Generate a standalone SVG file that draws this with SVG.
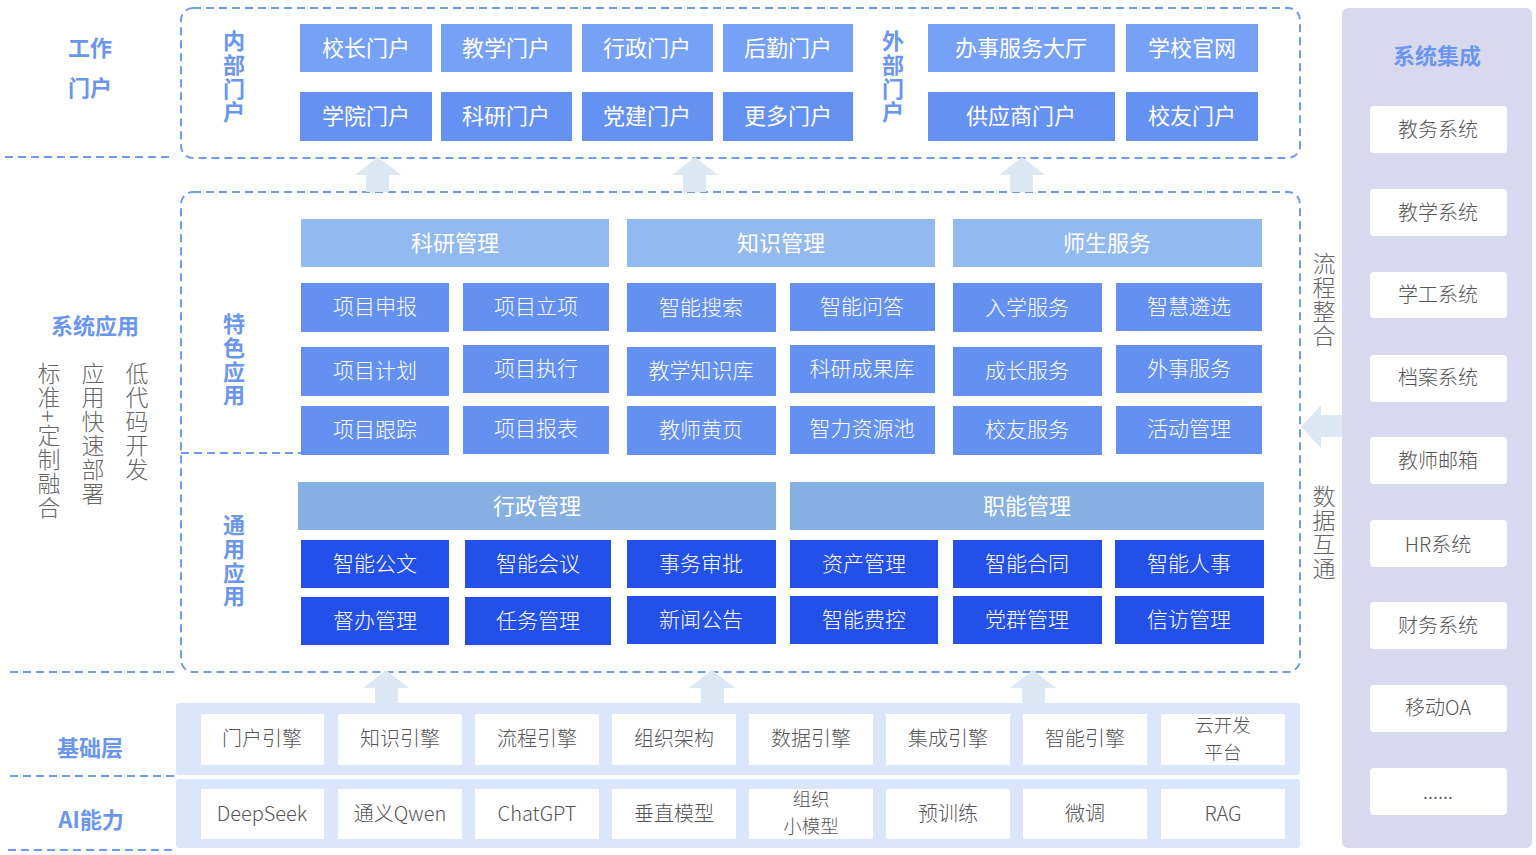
<svg xmlns="http://www.w3.org/2000/svg" width="1536" height="855" viewBox="0 0 1536 855">
<defs>
<style>
text{font-family:"Noto Sans CJK SC","Liberation Sans",sans-serif;text-anchor:middle;dominant-baseline:central;transform:translateY(-2px)}
.v{writing-mode:vertical-rl;text-anchor:start;transform:none}
.dash{fill:none;stroke:#6f9cf2;stroke-width:2;stroke-dasharray:8 5}
.lbl{fill:#6a96f0;font-size:22px;font-weight:700}
.vt{fill:#6a96f0;font-size:22px;font-weight:700;letter-spacing:1.7px}
.gv{fill:#666;font-size:23px;font-weight:300;letter-spacing:1px}
.p1{fill:#76a1f6}
.p2{fill:#6592f2}
.hd{fill:#93baf0}
.hd2{fill:#85b0e1}
.c{fill:#6490f2}
.c2{fill:#2450ea}
.wt{fill:#fff;font-size:21px;font-weight:300}
.wh{fill:#fff;font-size:22px;font-weight:400}
.panel{fill:#dce6fb}
.wb{fill:#fff}
.gt{fill:#555;font-size:20px;font-weight:300}
.gt2{fill:#555;font-size:18.5px;font-weight:300}
.arr{fill:#dde8f5}
.rp{fill:#d8d9ef}
</style>
</defs>

<!-- left column labels -->
<g id="left-labels">
<text class="lbl" x="90" y="48">工作</text>
<text class="lbl" x="90" y="88">门户</text>
<text class="lbl" x="95" y="326">系统应用</text>
<text class="lbl" x="90" y="748">基础层</text>
<text class="lbl" x="91" y="820">AI能力</text>
<text class="gv v" x="49" y="362">标准+定制融合</text>
<text class="gv v" x="93" y="362">应用快速部署</text>
<text class="gv v" x="137" y="362">低代码开发</text>
</g>

<!-- frames and separators -->
<g id="frames">
<line class="dash" x1="5" y1="157" x2="172" y2="157"/>
<line class="dash" x1="10" y1="672" x2="176" y2="672"/>
<line class="dash" x1="10" y1="776" x2="175" y2="776"/>
<line class="dash" x1="8" y1="850" x2="172" y2="850"/>
<rect class="dash" x="181" y="8" width="1119" height="150" rx="12"/>
<rect class="dash" x="181" y="192" width="1119" height="480" rx="12"/>
<line class="dash" x1="181" y1="453" x2="328" y2="453"/>
</g>

<!-- connectors (arrows) -->
<g id="connectors">
<polygon class="arr" points="378,157 401,175 389,175 389,192 366,192 366,175 355,175"/>
<polygon class="arr" points="695,157 718,175 706,175 706,192 683,192 683,175 672,175"/>
<polygon class="arr" points="1022,157 1045,175 1033,175 1033,192 1010,192 1010,175 999,175"/>
<polygon class="arr" points="386,670 409,688 398,688 398,703 375,703 375,688 363,688"/>
<polygon class="arr" points="712,670 735,688 724,688 724,703 701,703 701,688 689,688"/>
<polygon class="arr" points="1033,670 1056,688 1045,688 1045,703 1022,703 1022,688 1010,688"/>
<polygon class="arr" points="1301,427 1321,405 1321,415 1342,415 1342,437 1321,437 1321,448"/>
</g>

<!-- portal layer -->
<g id="portal-labels">
<text class="vt v" x="234" y="30">内部门户</text>
<text class="vt v" x="893" y="30">外部门户</text>
</g>
<g id="n-xiaozhang"><rect class="p1" x="300" y="24" width="132" height="48"/><text class="wh" x="366" y="48">校长门户</text></g>
<g id="n-jiaoxue-portal"><rect class="p1" x="441" y="24" width="131" height="48"/><text class="wh" x="506" y="48">教学门户</text></g>
<g id="n-xingzheng-portal"><rect class="p1" x="582" y="24" width="131" height="48"/><text class="wh" x="647" y="48">行政门户</text></g>
<g id="n-houqin"><rect class="p1" x="723" y="24" width="130" height="48"/><text class="wh" x="788" y="48">后勤门户</text></g>
<g id="n-xueyuan"><rect class="p2" x="300" y="92" width="132" height="49"/><text class="wh" x="366" y="116">学院门户</text></g>
<g id="n-keyan-portal"><rect class="p2" x="441" y="92" width="131" height="49"/><text class="wh" x="506" y="116">科研门户</text></g>
<g id="n-dangjian"><rect class="p2" x="582" y="92" width="131" height="49"/><text class="wh" x="647" y="116">党建门户</text></g>
<g id="n-gengduo"><rect class="p2" x="723" y="92" width="130" height="49"/><text class="wh" x="788" y="116">更多门户</text></g>
<g id="n-banshi"><rect class="p1" x="928" y="24" width="187" height="48"/><text class="wh" x="1021" y="48">办事服务大厅</text></g>
<g id="n-guanwang"><rect class="p1" x="1126" y="24" width="132" height="48"/><text class="wh" x="1192" y="48">学校官网</text></g>
<g id="n-gongying"><rect class="p2" x="928" y="92" width="187" height="49"/><text class="wh" x="1021" y="116">供应商门户</text></g>
<g id="n-xiaoyou-portal"><rect class="p2" x="1126" y="92" width="132" height="49"/><text class="wh" x="1192" y="116">校友门户</text></g>

<!-- application layer -->
<g id="app-labels">
<text class="vt v" x="234" y="313">特色应用</text>
<text class="vt v" x="234" y="514">通用应用</text>
</g>
<g id="h-keyan"><rect class="hd" x="301" y="219" width="308" height="48"/><text class="wh" x="455" y="243">科研管理</text></g>
<g id="h-zhishi"><rect class="hd" x="627" y="219" width="308" height="48"/><text class="wh" x="781" y="243">知识管理</text></g>
<g id="h-shisheng"><rect class="hd" x="953" y="219" width="309" height="48"/><text class="wh" x="1107" y="243">师生服务</text></g>

<g id="n-xmsb"><rect class="c" x="301" y="283" width="148" height="49"/><text class="wt" x="375" y="307">项目申报</text></g>
<g id="n-xmlx"><rect class="c" x="463" y="283" width="146" height="48"/><text class="wt" x="536" y="307">项目立项</text></g>
<g id="n-znss"><rect class="c" x="627" y="283" width="149" height="49"/><text class="wt" x="701" y="308">智能搜索</text></g>
<g id="n-znwd"><rect class="c" x="790" y="283" width="145" height="48"/><text class="wt" x="862" y="307">智能问答</text></g>
<g id="n-rxfw"><rect class="c" x="953" y="283" width="149" height="49"/><text class="wt" x="1027" y="308">入学服务</text></g>
<g id="n-zhlx"><rect class="c" x="1116" y="283" width="146" height="48"/><text class="wt" x="1189" y="307">智慧遴选</text></g>

<g id="n-xmjh"><rect class="c" x="301" y="347" width="148" height="49"/><text class="wt" x="375" y="371">项目计划</text></g>
<g id="n-xmzx"><rect class="c" x="463" y="345" width="146" height="48"/><text class="wt" x="536" y="369">项目执行</text></g>
<g id="n-jxzsk"><rect class="c" x="627" y="347" width="149" height="49"/><text class="wt" x="701" y="371">教学知识库</text></g>
<g id="n-kycgk"><rect class="c" x="790" y="345" width="145" height="48"/><text class="wt" x="862" y="369">科研成果库</text></g>
<g id="n-czfw"><rect class="c" x="953" y="347" width="149" height="49"/><text class="wt" x="1027" y="371">成长服务</text></g>
<g id="n-wsfw"><rect class="c" x="1116" y="345" width="146" height="48"/><text class="wt" x="1189" y="369">外事服务</text></g>

<g id="n-xmgz"><rect class="c" x="301" y="406" width="148" height="49"/><text class="wt" x="375" y="430">项目跟踪</text></g>
<g id="n-xmbb"><rect class="c" x="463" y="406" width="146" height="48"/><text class="wt" x="536" y="429">项目报表</text></g>
<g id="n-jshy"><rect class="c" x="627" y="406" width="149" height="49"/><text class="wt" x="701" y="430">教师黄页</text></g>
<g id="n-zlzyc"><rect class="c" x="790" y="406" width="145" height="48"/><text class="wt" x="862" y="429">智力资源池</text></g>
<g id="n-xyfw"><rect class="c" x="953" y="406" width="149" height="49"/><text class="wt" x="1027" y="430">校友服务</text></g>
<g id="n-hdgl"><rect class="c" x="1116" y="406" width="146" height="48"/><text class="wt" x="1189" y="429">活动管理</text></g>

<g id="h-xingzheng"><rect class="hd2" x="298" y="482" width="478" height="48"/><text class="wh" x="537" y="506">行政管理</text></g>
<g id="h-zhineng"><rect class="hd2" x="790" y="482" width="474" height="48"/><text class="wh" x="1027" y="506">职能管理</text></g>

<g id="n-zngw"><rect class="c2" x="301" y="540" width="148" height="48"/><text class="wt" x="375" y="564">智能公文</text></g>
<g id="n-znhy"><rect class="c2" x="465" y="540" width="146" height="48"/><text class="wt" x="538" y="564">智能会议</text></g>
<g id="n-swsp"><rect class="c2" x="627" y="540" width="149" height="48"/><text class="wt" x="701" y="564">事务审批</text></g>
<g id="n-zcgl"><rect class="c2" x="790" y="540" width="148" height="48"/><text class="wt" x="864" y="564">资产管理</text></g>
<g id="n-znht"><rect class="c2" x="953" y="540" width="149" height="48"/><text class="wt" x="1027" y="564">智能合同</text></g>
<g id="n-znrs"><rect class="c2" x="1115" y="540" width="149" height="48"/><text class="wt" x="1189" y="564">智能人事</text></g>

<g id="n-dbgl"><rect class="c2" x="301" y="597" width="148" height="48"/><text class="wt" x="375" y="621">督办管理</text></g>
<g id="n-rwgl"><rect class="c2" x="465" y="597" width="146" height="48"/><text class="wt" x="538" y="621">任务管理</text></g>
<g id="n-xwgg"><rect class="c2" x="627" y="596" width="149" height="48"/><text class="wt" x="701" y="620">新闻公告</text></g>
<g id="n-znfk"><rect class="c2" x="790" y="596" width="148" height="48"/><text class="wt" x="864" y="620">智能费控</text></g>
<g id="n-dqgl"><rect class="c2" x="953" y="596" width="149" height="48"/><text class="wt" x="1027" y="620">党群管理</text></g>
<g id="n-xfgl"><rect class="c2" x="1115" y="596" width="149" height="48"/><text class="wt" x="1189" y="620">信访管理</text></g>

<!-- foundation layer -->
<g id="base-panel"><rect class="panel" x="176" y="703" width="1124" height="72" rx="3"/></g>
<g id="n-mhyq"><rect class="wb" x="201" y="714" width="123" height="51"/><text class="gt" x="262" y="739">门户引擎</text></g>
<g id="n-zsyq"><rect class="wb" x="338" y="714" width="124" height="51"/><text class="gt" x="400" y="739">知识引擎</text></g>
<g id="n-lcyq"><rect class="wb" x="475" y="714" width="124" height="51"/><text class="gt" x="537" y="739">流程引擎</text></g>
<g id="n-zzjg"><rect class="wb" x="612" y="714" width="124" height="51"/><text class="gt" x="674" y="739">组织架构</text></g>
<g id="n-sjyq"><rect class="wb" x="749" y="714" width="124" height="51"/><text class="gt" x="811" y="739">数据引擎</text></g>
<g id="n-jcyq"><rect class="wb" x="886" y="714" width="124" height="51"/><text class="gt" x="948" y="739">集成引擎</text></g>
<g id="n-znyq"><rect class="wb" x="1023" y="714" width="124" height="51"/><text class="gt" x="1085" y="739">智能引擎</text></g>
<g id="n-ykf"><rect class="wb" x="1161" y="714" width="124" height="51"/><text class="gt2"><tspan x="1223" y="725.5">云开发</tspan><tspan x="1223" y="752.5">平台</tspan></text></g>

<!-- AI layer -->
<g id="ai-panel"><rect class="panel" x="176" y="779" width="1124" height="69" rx="3"/></g>
<g id="n-deepseek"><rect class="wb" x="201" y="789" width="123" height="50"/><text class="gt" x="262" y="814">DeepSeek</text></g>
<g id="n-qwen"><rect class="wb" x="338" y="789" width="124" height="50"/><text class="gt" x="400" y="814">通义Qwen</text></g>
<g id="n-chatgpt"><rect class="wb" x="475" y="789" width="124" height="50"/><text class="gt" x="537" y="814">ChatGPT</text></g>
<g id="n-czmx"><rect class="wb" x="612" y="789" width="124" height="50"/><text class="gt" x="674" y="814">垂直模型</text></g>
<g id="n-zzxmx"><rect class="wb" x="749" y="789" width="124" height="50"/><text class="gt2"><tspan x="811" y="800">组织</tspan><tspan x="811" y="827">小模型</tspan></text></g>
<g id="n-yxl"><rect class="wb" x="886" y="789" width="124" height="50"/><text class="gt" x="948" y="814">预训练</text></g>
<g id="n-wt"><rect class="wb" x="1023" y="789" width="124" height="50"/><text class="gt" x="1085" y="814">微调</text></g>
<g id="n-rag"><rect class="wb" x="1161" y="789" width="124" height="50"/><text class="gt" x="1223" y="814">RAG</text></g>

<!-- integration side labels -->
<g id="side-labels">
<text class="gv v" x="1324" y="252">流程整合</text>
<text class="gv v" x="1324" y="485">数据互通</text>
</g>

<!-- system integration -->
<g id="sys-panel"><rect class="rp" x="1342" y="8" width="190" height="840" rx="6"/><text class="lbl" x="1437" y="56">系统集成</text></g>
<g id="s-jw"><rect class="wb" x="1370" y="106" width="137" height="47" rx="4"/><text class="gt" x="1438" y="130">教务系统</text></g>
<g id="s-jx"><rect class="wb" x="1370" y="189" width="137" height="47" rx="4"/><text class="gt" x="1438" y="213">教学系统</text></g>
<g id="s-xg"><rect class="wb" x="1370" y="272" width="137" height="46" rx="4"/><text class="gt" x="1438" y="295">学工系统</text></g>
<g id="s-da"><rect class="wb" x="1370" y="355" width="137" height="47" rx="4"/><text class="gt" x="1438" y="378">档案系统</text></g>
<g id="s-yx"><rect class="wb" x="1370" y="437" width="137" height="47" rx="4"/><text class="gt" x="1438" y="461">教师邮箱</text></g>
<g id="s-hr"><rect class="wb" x="1370" y="520" width="137" height="47" rx="4"/><text class="gt" x="1438" y="545">HR系统</text></g>
<g id="s-cw"><rect class="wb" x="1370" y="602" width="137" height="47" rx="4"/><text class="gt" x="1438" y="626">财务系统</text></g>
<g id="s-oa"><rect class="wb" x="1370" y="685" width="137" height="47" rx="4"/><text class="gt" x="1438" y="708">移动OA</text></g>
<g id="s-more"><rect class="wb" x="1370" y="768" width="137" height="47" rx="4"/><text class="gt" x="1438" y="792">......</text></g>
</svg>
